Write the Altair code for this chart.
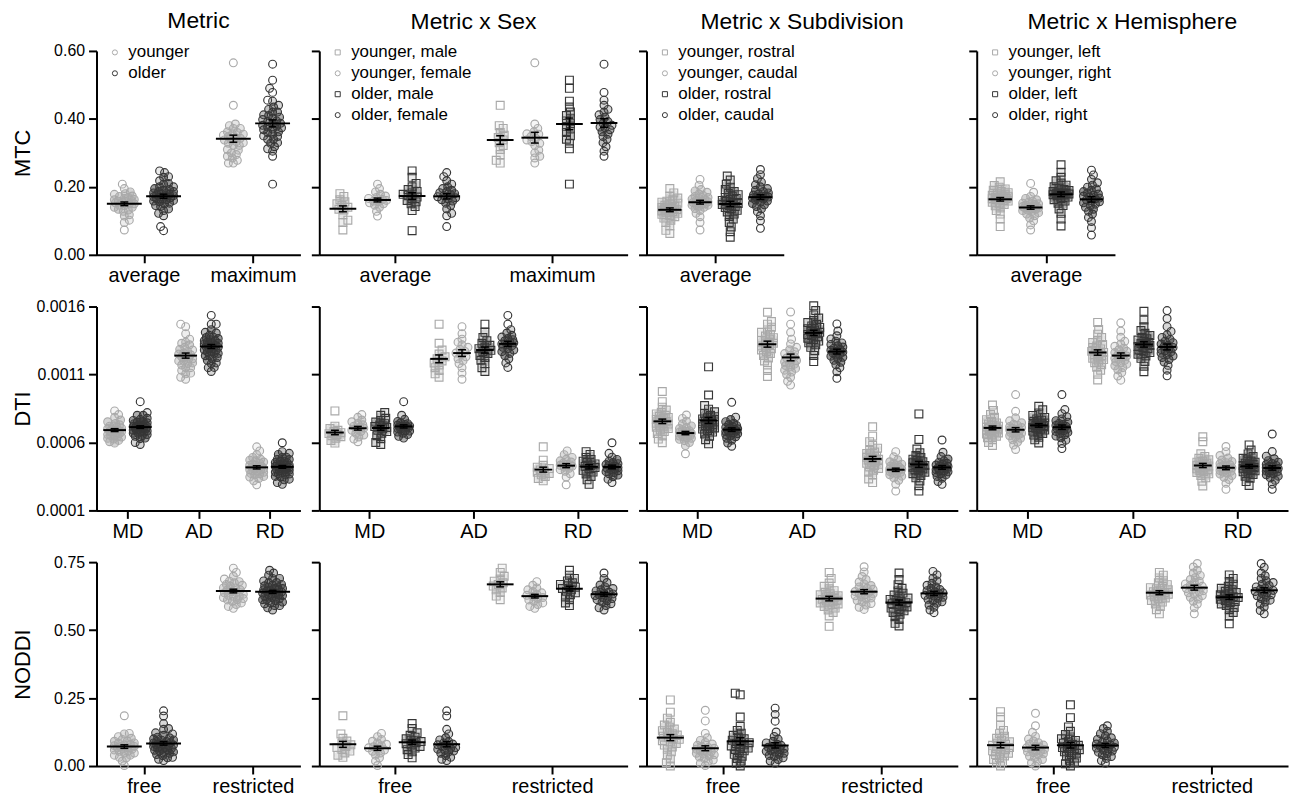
import altair as alt
import numpy as np
import pandas as pd

# ---------------- data ----------------
# MTC and NODDI values are stored in thousandths (x 0.001),
# DTI values in 1e-6 mm^2/s (e.g. 723 -> 0.000723).

MTC_SEX = {
    "average": {
        "younger, male": [73, 95, 102, 118, 132, 134, 140, 145, 150, 156, 162, 172, 180],
        "younger, female": [114, 128, 140, 146, 150, 153, 156, 158, 160, 163, 166, 169, 173, 178, 185, 195, 208],
        "older, male": [71, 130, 142, 150, 156, 160, 165, 170, 174, 178, 182, 186, 192, 200, 210, 228, 247],
        "older, female": [83, 115, 122, 135, 145, 152, 158, 162, 165, 168, 171, 174, 177, 180, 183, 186, 190, 195, 200, 208, 218, 230, 242],
    },
    "maximum": {
        "younger, male": [270, 278, 295, 310, 322, 330, 338, 345, 352, 360, 372, 380, 440],
        "younger, female": [270, 285, 290, 300, 308, 322, 328, 333, 338, 343, 348, 355, 356, 362, 372, 385, 565],
        "older, male": [208, 312, 328, 340, 350, 360, 370, 378, 386, 394, 402, 410, 420, 435, 452, 490, 514],
        "older, female": [290, 305, 318, 330, 340, 348, 355, 362, 368, 374, 376, 381, 387, 392, 398, 405, 412, 420, 428, 440, 455, 478, 561],
    },
}

MTC_SUB = {
    "average": {
        "younger, rostral": [63, 72, 85, 95, 102, 108, 112, 116, 119, 122, 125, 127, 129, 131, 133, 135, 137, 139, 141, 143, 146, 149, 152, 155, 158, 162, 167, 173, 182, 195],
        "younger, caudal": [73, 95, 112, 122, 130, 136, 140, 143, 146, 148, 146, 148, 150, 152, 154, 156, 158, 160, 162, 164, 166, 169, 172, 175, 179, 184, 188, 192, 205, 222],
        "older, rostral": [52, 68, 82, 95, 105, 113, 120, 126, 131, 135, 139, 142, 145, 148, 151, 154, 157, 160, 163, 166, 169, 173, 177, 181, 186, 192, 199, 208, 220, 232],
        "older, caudal": [78, 100, 115, 127, 135, 142, 147, 151, 155, 158, 161, 164, 167, 170, 172, 167, 170, 173, 176, 179, 182, 186, 190, 195, 200, 206, 214, 224, 236, 251],
    },
}

MTC_HEMI = {
    "average": {
        "younger, left": [83, 105, 120, 130, 138, 144, 148, 152, 155, 158, 160, 162, 164, 166, 168, 165, 167, 169, 171, 173, 175, 177, 180, 183, 186, 190, 194, 199, 204, 215],
        "younger, right": [73, 88, 100, 108, 115, 120, 124, 127, 130, 132, 134, 136, 138, 140, 142, 138, 140, 142, 144, 146, 148, 150, 152, 155, 158, 162, 166, 172, 184, 210],
        "older, left": [85, 105, 122, 135, 145, 152, 158, 162, 166, 170, 173, 176, 178, 180, 182, 177, 179, 181, 183, 186, 189, 192, 196, 200, 205, 211, 218, 228, 243, 265],
        "older, right": [58, 80, 98, 110, 120, 128, 134, 140, 145, 149, 153, 156, 159, 162, 165, 167, 170, 173, 176, 179, 182, 186, 190, 194, 199, 205, 212, 222, 235, 249],
    },
}

DTI_SEX = {
    "MD": {
        "younger, male": [595, 615, 630, 642, 650, 658, 665, 672, 680, 690, 702, 720, 832],
        "younger, female": [605, 625, 640, 655, 668, 680, 690, 698, 705, 712, 720, 730, 740, 752, 765, 785, 805],
        "older, male": [585, 600, 628, 650, 668, 680, 690, 700, 710, 718, 728, 738, 750, 762, 778, 800, 820],
        "older, female": [632, 645, 658, 668, 676, 684, 690, 696, 702, 707, 712, 716, 718, 720, 722, 728, 733, 738, 745, 755, 770, 800, 900],
    },
    "AD": {
        "younger, male": [1080, 1105, 1130, 1150, 1170, 1185, 1200, 1215, 1230, 1250, 1280, 1330, 1470],
        "younger, female": [1065, 1110, 1150, 1180, 1200, 1215, 1230, 1245, 1258, 1270, 1285, 1300, 1318, 1338, 1360, 1400, 1452],
        "older, male": [1122, 1150, 1180, 1205, 1225, 1240, 1255, 1268, 1278, 1290, 1302, 1315, 1330, 1348, 1372, 1410, 1470],
        "older, female": [1152, 1185, 1215, 1238, 1255, 1268, 1280, 1290, 1300, 1310, 1318, 1325, 1333, 1340, 1348, 1356, 1365, 1375, 1388, 1405, 1430, 1470, 1535],
    },
    "RD": {
        "younger, male": [318, 335, 350, 362, 372, 380, 390, 398, 408, 418, 432, 470, 568],
        "younger, female": [288, 345, 370, 388, 400, 410, 418, 425, 432, 440, 448, 456, 465, 476, 490, 510, 538],
        "older, male": [292, 325, 350, 368, 382, 395, 405, 415, 424, 433, 442, 452, 462, 475, 490, 512, 532],
        "older, female": [305, 330, 348, 360, 370, 378, 385, 392, 398, 404, 410, 415, 420, 425, 431, 437, 444, 452, 462, 475, 492, 520, 598],
    },
}

DTI_SUB = {
    "MD": {
        "younger, rostral": [598, 625, 648, 665, 680, 692, 702, 712, 720, 728, 735, 742, 748, 755, 762, 769, 776, 784, 792, 800, 810, 822, 838, 860, 900, 975],
        "younger, caudal": [517, 577, 599, 613, 623, 631, 637, 642, 647, 651, 655, 659, 663, 667, 671, 676, 681, 687, 694, 702, 711, 722, 737, 757, 777, 802],
        "older, rostral": [590, 620, 645, 662, 676, 688, 698, 707, 715, 723, 730, 737, 744, 751, 758, 765, 773, 781, 790, 800, 812, 826, 845, 872, 949, 1156],
        "older, caudal": [572, 596, 616, 631, 642, 651, 658, 664, 670, 675, 680, 684, 688, 692, 696, 701, 706, 711, 717, 724, 732, 741, 753, 769, 786, 895],
    },
    "AD": {
        "younger, rostral": [1085, 1130, 1170, 1200, 1222, 1240, 1255, 1268, 1280, 1290, 1300, 1310, 1320, 1330, 1340, 1350, 1360, 1371, 1383, 1395, 1410, 1428, 1448, 1470, 1490, 1558],
        "younger, caudal": [1022, 1050, 1080, 1100, 1118, 1132, 1145, 1156, 1166, 1176, 1185, 1194, 1203, 1212, 1221, 1231, 1242, 1254, 1267, 1282, 1300, 1325, 1360, 1410, 1470, 1560],
        "older, rostral": [1195, 1240, 1275, 1300, 1318, 1333, 1346, 1357, 1367, 1377, 1386, 1394, 1402, 1410, 1418, 1427, 1436, 1446, 1457, 1469, 1482, 1497, 1515, 1538, 1570, 1605],
        "older, caudal": [1072, 1120, 1150, 1172, 1190, 1204, 1216, 1226, 1235, 1243, 1251, 1258, 1265, 1272, 1279, 1286, 1294, 1302, 1311, 1321, 1332, 1345, 1362, 1385, 1420, 1472],
    },
    "RD": {
        "younger, rostral": [305, 331, 361, 381, 396, 409, 420, 430, 439, 447, 455, 462, 469, 476, 483, 491, 499, 508, 518, 529, 542, 558, 578, 606, 646, 715],
        "younger, caudal": [242, 292, 322, 340, 352, 362, 369, 375, 381, 386, 391, 395, 399, 403, 407, 411, 416, 421, 427, 433, 440, 448, 458, 472, 494, 532],
        "older, rostral": [242, 282, 317, 340, 357, 370, 381, 390, 398, 405, 412, 418, 424, 430, 436, 443, 450, 458, 467, 477, 489, 504, 524, 552, 622, 810],
        "older, caudal": [292, 313, 336, 350, 361, 370, 378, 384, 390, 395, 400, 405, 409, 413, 418, 423, 428, 434, 440, 447, 455, 465, 478, 496, 528, 618],
    },
}

DTI_HEMI = {
    "MD": {
        "younger, left": [578, 600, 620, 635, 646, 655, 663, 670, 676, 682, 688, 693, 698, 703, 708, 714, 720, 727, 735, 744, 755, 768, 785, 805, 835, 875],
        "younger, right": [548, 581, 603, 619, 631, 641, 649, 656, 662, 668, 673, 678, 683, 688, 693, 698, 704, 710, 717, 725, 734, 745, 759, 781, 829, 952],
        "older, left": [596, 619, 639, 654, 666, 676, 684, 691, 698, 704, 710, 716, 721, 726, 731, 737, 743, 749, 756, 764, 773, 784, 799, 817, 840, 866],
        "older, right": [555, 592, 617, 634, 647, 657, 666, 674, 681, 687, 693, 698, 703, 708, 713, 719, 725, 732, 740, 749, 760, 773, 790, 812, 842, 952],
    },
    "AD": {
        "younger, left": [1060, 1102, 1132, 1154, 1172, 1187, 1199, 1210, 1220, 1229, 1238, 1246, 1254, 1262, 1270, 1279, 1288, 1298, 1309, 1321, 1335, 1352, 1372, 1397, 1432, 1483],
        "younger, right": [1058, 1089, 1114, 1134, 1150, 1164, 1176, 1186, 1195, 1204, 1212, 1220, 1228, 1236, 1244, 1252, 1261, 1271, 1282, 1294, 1308, 1324, 1344, 1374, 1419, 1480],
        "older, left": [1120, 1161, 1196, 1219, 1236, 1249, 1261, 1271, 1281, 1290, 1298, 1306, 1313, 1320, 1328, 1336, 1344, 1353, 1363, 1374, 1387, 1403, 1423, 1451, 1501, 1565],
        "older, right": [1090, 1132, 1167, 1192, 1210, 1224, 1236, 1247, 1257, 1266, 1275, 1283, 1291, 1299, 1307, 1315, 1324, 1334, 1345, 1358, 1373, 1392, 1417, 1452, 1512, 1570],
    },
    "RD": {
        "younger, left": [280, 315, 340, 357, 369, 379, 387, 394, 400, 406, 411, 416, 421, 426, 431, 436, 442, 448, 455, 463, 472, 483, 497, 517, 605, 642],
        "younger, right": [255, 299, 327, 344, 357, 367, 375, 382, 388, 394, 399, 404, 409, 414, 419, 424, 430, 436, 443, 451, 460, 471, 485, 504, 532, 570],
        "older, left": [284, 312, 336, 352, 365, 375, 384, 391, 398, 404, 410, 415, 420, 425, 430, 436, 442, 448, 455, 463, 472, 483, 497, 516, 544, 582],
        "older, right": [255, 293, 321, 339, 352, 362, 370, 377, 383, 389, 394, 399, 404, 409, 414, 419, 425, 431, 438, 446, 455, 466, 480, 499, 533, 662],
    },
}

NODDI_SEX = {
    "free": {
        "younger, male": [32, 40, 48, 55, 62, 68, 72, 78, 84, 92, 102, 118, 185],
        "younger, female": [2, 18, 30, 40, 48, 54, 59, 63, 67, 71, 75, 80, 85, 91, 98, 108, 120],
        "older, male": [30, 42, 52, 60, 66, 72, 77, 82, 86, 90, 95, 100, 106, 113, 122, 138, 156],
        "older, female": [20, 25, 32, 38, 47, 52, 55, 58, 62, 65, 68, 72, 75, 78, 81, 85, 90, 96, 104, 118, 135, 184, 203],
    },
    "restricted": {
        "younger, male": [612, 625, 638, 648, 655, 662, 668, 674, 680, 688, 698, 712, 728],
        "younger, female": [580, 587, 594, 600, 606, 611, 616, 620, 624, 628, 632, 637, 642, 648, 655, 665, 678],
        "older, male": [590, 600, 612, 622, 630, 637, 643, 648, 653, 658, 663, 668, 674, 681, 690, 702, 720],
        "older, female": [574, 582, 590, 597, 603, 608, 612, 616, 620, 624, 627, 630, 633, 636, 640, 644, 648, 653, 659, 666, 675, 690, 710],
    },
}

NODDI_SUB = {
    "free": {
        "younger, rostral": [0, 12, 26, 40, 52, 62, 70, 77, 83, 88, 93, 98, 102, 106, 110, 114, 119, 124, 130, 136, 143, 151, 161, 176, 198, 243],
        "younger, caudal": [2, 10, 16, 22, 28, 33, 37, 41, 44, 47, 50, 53, 56, 59, 62, 65, 68, 72, 76, 81, 87, 94, 104, 120, 166, 205],
        "older, rostral": [0, 10, 18, 28, 36, 43, 50, 56, 61, 66, 70, 74, 78, 82, 86, 90, 95, 100, 106, 113, 121, 131, 146, 180, 262, 268],
        "older, caudal": [10, 18, 24, 30, 35, 39, 43, 47, 51, 54, 57, 60, 63, 66, 69, 72, 76, 80, 85, 91, 99, 109, 125, 165, 190, 213],
    },
    "restricted": {
        "younger, rostral": [514, 552, 565, 574, 581, 587, 592, 596, 600, 604, 607, 610, 613, 616, 619, 622, 626, 630, 634, 639, 645, 652, 661, 673, 690, 712],
        "younger, caudal": [576, 584, 592, 598, 604, 609, 614, 618, 622, 626, 630, 633, 636, 639, 642, 646, 650, 654, 659, 664, 670, 677, 686, 697, 714, 733],
        "older, rostral": [515, 525, 539, 549, 558, 565, 571, 576, 581, 585, 589, 593, 597, 601, 605, 609, 613, 618, 623, 629, 636, 644, 654, 667, 686, 710],
        "older, caudal": [564, 574, 584, 592, 599, 604, 609, 613, 617, 621, 625, 628, 631, 634, 637, 641, 645, 649, 654, 659, 665, 672, 681, 691, 703, 716],
    },
}

NODDI_HEMI = {
    "free": {
        "younger, left": [0, 10, 16, 24, 31, 37, 42, 47, 52, 56, 60, 64, 68, 72, 76, 80, 84, 89, 95, 102, 110, 119, 131, 150, 180, 200],
        "younger, right": [0, 12, 16, 24, 31, 36, 41, 45, 49, 52, 55, 58, 61, 64, 67, 70, 73, 77, 81, 86, 92, 99, 109, 124, 148, 194],
        "older, left": [0, 8, 12, 21, 29, 36, 42, 47, 52, 56, 60, 64, 68, 72, 76, 80, 84, 89, 94, 100, 107, 116, 128, 144, 178, 225],
        "older, right": [10, 20, 28, 35, 41, 46, 51, 55, 59, 63, 66, 69, 72, 75, 78, 81, 85, 89, 93, 98, 104, 111, 119, 128, 138, 148],
    },
    "restricted": {
        "younger, left": [560, 575, 587, 596, 603, 609, 614, 618, 622, 626, 629, 632, 635, 638, 641, 644, 648, 652, 656, 661, 667, 674, 682, 692, 702, 712],
        "younger, right": [560, 582, 596, 606, 614, 621, 627, 632, 637, 641, 645, 649, 653, 657, 661, 665, 670, 675, 680, 686, 693, 701, 710, 720, 732, 745],
        "older, left": [523, 552, 565, 575, 583, 590, 596, 601, 605, 609, 613, 617, 620, 623, 626, 630, 634, 638, 643, 648, 654, 661, 669, 679, 690, 703],
        "older, right": [560, 572, 585, 595, 603, 610, 616, 621, 626, 630, 634, 638, 642, 646, 650, 654, 659, 664, 669, 675, 682, 690, 700, 710, 731, 745],
    },
}

COL_TITLES = ["Metric", "Metric x Sex", "Metric x Subdivision", "Metric x Hemisphere"]
GROUPS = [
    ["younger", "older"],
    ["younger, male", "younger, female", "older, male", "older, female"],
    ["younger, rostral", "younger, caudal", "older, rostral", "older, caudal"],
    ["younger, left", "younger, right", "older, left", "older, right"],
]

YOUNG_C = "#a9a9a9"
OLD_C = "#363636"
FONT = "Liberation Sans"


def pooled(sex_dict):
    """Metric panel = both sexes pooled per age group."""
    out = {}
    for cat, d in sex_dict.items():
        out[cat] = {
            "younger": d["younger, male"] + d["younger, female"],
            "older": d["older, male"] + d["older, female"],
        }
    return out


ROWS = [
    dict(name="MTC", unit=1e-3, domain=[0.0, 0.6], ticks=[0.0, 0.2, 0.4, 0.6], fmt=".2f",
         panels=[pooled(MTC_SEX), MTC_SEX, MTC_SUB, MTC_HEMI]),
    dict(name="DTI", unit=1e-6, domain=[0.0001, 0.0016], ticks=[0.0001, 0.0006, 0.0011, 0.0016], fmt=".4f",
         panels=[pooled(DTI_SEX), DTI_SEX, DTI_SUB, DTI_HEMI]),
    dict(name="NODDI", unit=1e-3, domain=[0.0, 0.75], ticks=[0.0, 0.25, 0.5, 0.75], fmt=".2f",
         panels=[pooled(NODDI_SEX), NODDI_SEX, NODDI_SUB, NODDI_HEMI]),
]

H = 205
COL_W = [205, 310, 313, 313]
NARROW_W = {2: 138, 3: 139}
MARK_D = 8.0


def swarm(ypx, max_half, d=MARK_D, sep=0.6, step=1.0):
    """Deterministic beeswarm offsets (pixels) for one group."""
    n = len(ypx)
    order = np.argsort(ypx, kind="stable")
    xs = np.zeros(n)
    px, py = [], []
    for j, i in enumerate(order):
        y = ypx[i]
        cands = [0.0]
        k = 1
        while k * step <= max_half + 1e-9:
            a, b = k * step, -k * step
            if j % 2:
                a, b = b, a
            cands += [a, b]
            k += 1
        chosen, best, bestd = None, 0.0, -1.0
        ax, ay = np.array(px), np.array(py)
        for c in cands:
            dmin = np.min(np.hypot(ax - c, ay - y)) if len(ax) else np.inf
            if dmin >= d * sep:
                chosen = c
                break
            if dmin > bestd:
                bestd, best = dmin, c
        if chosen is None:
            chosen = best
        xs[i] = chosen
        px.append(chosen)
        py.append(y)
    return xs


def crowding(xs, ys, d=MARK_D):
    """Fill strength per marker: overlapping markers read as a solid cluster."""
    out = []
    for i in range(len(xs)):
        dist = np.hypot(xs - xs[i], ys - ys[i])
        nb = int(np.sum(dist < 1.1 * d)) - 1
        out.append(min(0.5, 0.1 * max(nb - 1, 0)))
    return out


def make_panel(ri, ci):
    spec = ROWS[ri]
    data = spec["panels"][ci]
    cats = list(data.keys())
    groups = GROUPS[ci]
    ng = len(groups)
    if ri == 0 and ci >= 2:
        width, pad = NARROW_W[ci], 0.5
    else:
        width, pad = COL_W[ci], (0.435 if ci == 0 else 0.48)
    cat_px = width / (len(cats) - 1 + 2 * pad)
    if ng == 2:
        offs = [-0.18, 0.18]
        gs = 0.36 * cat_px
        mean_len = 0.32 * cat_px
        shapes = ["circle", "circle"]
        colors = [YOUNG_C, OLD_C]
    else:
        offs = [-0.33, -0.11, 0.11, 0.33]
        gs = 0.22 * cat_px
        mean_len = 0.17 * cat_px
        shapes = ["square", "circle", "square", "circle"]
        colors = [YOUNG_C, YOUNG_C, OLD_C, OLD_C]
    gcolor = dict(zip(groups, colors))
    max_half = min(0.28 * gs, 10.0)
    lo, hi = spec["domain"]

    recs = []
    for k, cat in enumerate(cats):
        for g, off in zip(groups, offs):
            vals = np.asarray(data[cat][g], dtype=float) * spec["unit"]
            ypx = (vals - lo) / (hi - lo) * H
            xo = swarm(ypx, max_half)
            ops = crowding(xo, ypx)
            for v, x, op in zip(vals, xo, ops):
                recs.append({"pos": k + off + x / cat_px, "gx": k + off, "val": v,
                             "grp": g, "fc": gcolor[g], "op": op})
    df = pd.DataFrame(recs)

    xscale = alt.Scale(domain=[-pad, len(cats) - 1 + pad], nice=False, zero=False)
    yscale = alt.Scale(domain=[lo, hi], nice=False, zero=False)
    xaxis = alt.Axis(values=list(range(len(cats))), labelExpr=f"{cats!r}[datum.value]",
                     title=None, labelFontSize=20, labelPadding=3, labelAngle=0)
    if ci == 0:
        yaxis = alt.Axis(values=spec["ticks"], format=spec["fmt"], title=spec["name"],
                         titleFontSize=22, titleFontWeight="normal", titlePadding=6,
                         labelFontSize=16, labelPadding=4, minExtent=56, maxExtent=56)
    else:
        yaxis = alt.Axis(values=spec["ticks"], labels=False, title=None)

    if ri == 0:
        leg = alt.Legend(orient="none", legendX=10, legendY=-7, title=None, padding=0,
                         labelFontSize=17, labelOffset=5, rowPadding=3,
                         symbolSize=26, symbolStrokeWidth=1, labelLimit=300)
    else:
        leg = None

    base = alt.Chart(df)
    # fill under crowded markers so dense clusters read as solid, like the original
    tint = base.mark_circle(size=50).encode(
        x=alt.X("pos:Q", scale=xscale, axis=xaxis),
        y=alt.Y("val:Q", scale=yscale, axis=yaxis),
        fill=alt.Fill("fc:N", scale=None),
        opacity=alt.Opacity("op:Q", scale=None),
    )
    pts = base.mark_point(filled=False, size=62, strokeWidth=1.15, opacity=1).encode(
        x=alt.X("pos:Q", scale=xscale, axis=xaxis),
        y=alt.Y("val:Q", scale=yscale, axis=yaxis),
        color=alt.Color("grp:N", scale=alt.Scale(domain=groups, range=colors), legend=leg),
        shape=alt.Shape("grp:N", scale=alt.Scale(domain=groups, range=shapes), legend=leg),
    )
    summ = base.transform_aggregate(
        m="mean(val)", s="stderr(val)", groupby=["grp", "gx"]
    ).transform_calculate(lo="datum.m - datum.s", hi="datum.m + datum.s")
    mean = summ.mark_tick(orient="horizontal", size=mean_len, thickness=2,
                          color="black", opacity=1).encode(
        x=alt.X("gx:Q", scale=xscale, axis=xaxis),
        y=alt.Y("m:Q", scale=yscale, axis=yaxis))
    err = summ.mark_rule(color="black", strokeWidth=1.5).encode(
        x=alt.X("gx:Q", scale=xscale, axis=xaxis),
        y=alt.Y("lo:Q", scale=yscale, axis=yaxis), y2="hi:Q")
    cap_lo = summ.mark_tick(orient="horizontal", size=8, thickness=1.5,
                            color="black", opacity=1).encode(
        x=alt.X("gx:Q", scale=xscale, axis=xaxis),
        y=alt.Y("lo:Q", scale=yscale, axis=yaxis))
    cap_hi = summ.mark_tick(orient="horizontal", size=8, thickness=1.5,
                            color="black", opacity=1).encode(
        x=alt.X("gx:Q", scale=xscale, axis=xaxis),
        y=alt.Y("hi:Q", scale=yscale, axis=yaxis))

    layer = alt.layer(tint, pts, mean, err, cap_lo, cap_hi)
    if ri == 0:
        dx = (COL_W[ci] - width) / 2.0
        layer = layer.properties(
            width=width, height=H,
            title=alt.TitleParams(COL_TITLES[ci], fontSize=23, fontWeight="normal",
                                  anchor="middle", frame="group", offset=-8,
                                  baseline="alphabetic", dx=dx))
    else:
        layer = layer.properties(width=width, height=H)
    return layer


panels = [make_panel(r, c) for r in range(3) for c in range(4)]

chart = alt.concat(
    *panels, columns=4, spacing={"row": 52, "column": 19}, bounds="flush", align="each"
).resolve_scale(
    color="independent", shape="independent"
).properties(
    padding={"left": 4, "top": 0, "right": 2, "bottom": 0}
).configure(
    font=FONT
).configure_axis(
    domainColor="black", domainWidth=2, tickColor="black", tickWidth=2, tickSize=8,
    labelColor="black", titleColor="black", grid=False, labelFont=FONT, titleFont=FONT
).configure_legend(
    labelFont=FONT, labelColor="black"
).configure_title(
    font=FONT, color="black"
).configure_view(stroke=None)

chart.save("out.html", embed_options={"renderer": "svg", "actions": False})
